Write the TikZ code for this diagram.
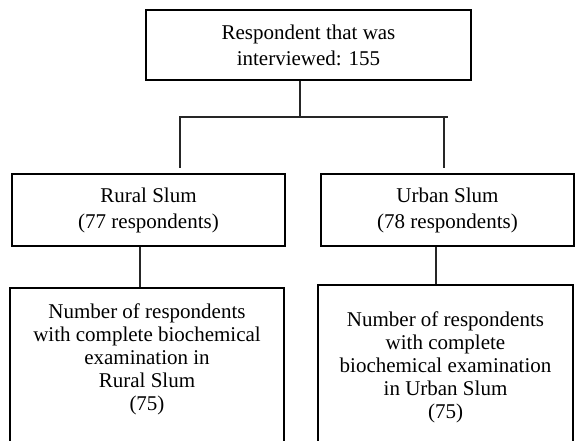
\documentclass[tikz,border=0pt]{standalone}
\usepackage{fontspec}
\setmainfont{Liberation Serif}
\begin{document}
\begin{tikzpicture}[x=1pt,y=-1pt,
  boxstyle/.style={draw=black, line width=2.3pt, fill=white, rectangle, inner sep=0pt, align=center,
    font=\fontsize{21}{26}\selectfont},
  tallbox/.style={draw=black, line width=2.3pt, fill=white, rectangle, inner sep=0pt},
  tallText/.style={align=center, inner sep=0pt, font=\fontsize{21}{23}\selectfont},
  conn/.style={draw=black!85, line width=1.1pt}
]
\useasboundingbox (0,0) rectangle (576,441);
\clip (0,0) rectangle (576,441);
\fill[white] (0,0) rectangle (576,441);

\node[boxstyle, minimum width=325pt, minimum height=70pt] (top) at (308.5,45) {Respondent that was\\interviewed: 155};
\node[boxstyle, minimum width=273pt, minimum height=72pt] (rural) at (148.5,210) {Rural Slum\\(77 respondents)};
\node[boxstyle, minimum width=253pt, minimum height=72pt] (urban) at (447.5,210) {Urban Slum\\(78 respondents)};
\node[tallbox, minimum width=274pt, minimum height=180pt] (rurb) at (147,378) {};
\node[tallbox, minimum width=255pt, minimum height=184pt] (urbb) at (445.5,377) {};
\node[tallText] (rurbt) at (rurb.center |- 0,359) {Number of respondents\\with complete biochemical\\examination in\\Rural Slum\\(75)};
\node[tallText] (urbbt) at (urbb.center |- 0,367) {Number of respondents\\with complete\\biochemical examination\\in Urban Slum\\(75)};

\coordinate (j) at (300,117);
\coordinate (jl) at (179,117);
\coordinate (jr) at (448,117);
\coordinate (dl) at (180,168);
\coordinate (dr) at (444,168);
\coordinate (sr) at (140,0);
\coordinate (su) at (436,0);

\draw[conn] (top.south -| j) -- (j);
\draw[conn] (jl) -- (jr);
\draw[conn] (jl -| dl) -- (dl);
\draw[conn] (jr -| dr) -- (dr);
\draw[conn] (rural.south -| sr) -- (rurb.north -| sr);
\draw[conn] (urban.south -| su) -- (urbb.north -| su);
\end{tikzpicture}
\end{document}
